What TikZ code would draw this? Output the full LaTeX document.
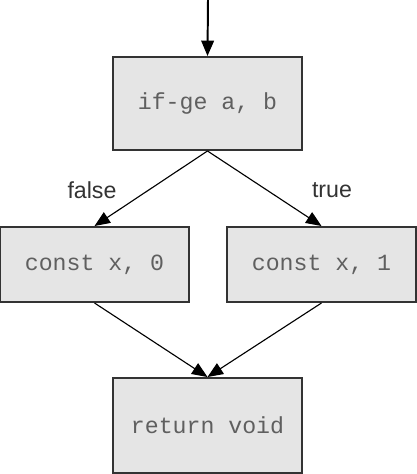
\documentclass[tikz,border=0pt]{standalone}
\usepackage{fontspec}
\setmainfont{Liberation Sans}
\setmonofont{Liberation Mono}
\usepackage{xcolor}
\definecolor{boxfill}{HTML}{E5E5E5}
\definecolor{boxline}{HTML}{333333}
\definecolor{codegray}{HTML}{5F5F5F}
\usetikzlibrary{arrows.meta}

\begin{document}
\begin{tikzpicture}[
    insn/.style={draw=boxline, line width=1.4pt, fill=boxfill,
      minimum width=4.725cm, font=\ttfamily\fontsize{16.5}{20}\selectfont,
      text=codegray, inner sep=0pt},
    branchlabel/.style={font=\fontsize{16.5}{20}\selectfont, text=boxline},
    flow/.style={-{Triangle[length=11pt, width=9pt]}, line width=0.8pt},
  ]
    \useasboundingbox (0, 0) rectangle (10.425, -11.85);

    % 指令块
    \coordinate (entry) at (5.2, 0);
    \node[insn, minimum height=2.325cm] (ifge)  at (5.1875, -2.5875)  {if-ge a, b};
    \node[insn, minimum height=1.875cm] (cst0)  at (2.3625, -6.6125)  {const x, 0};
    \node[insn, minimum height=1.875cm] (cst1)  at (8.0375, -6.6125)  {const x, 1};
    \node[insn, minimum height=2.375cm] (ret)   at (5.1875, -10.6375) {return void};

    % 分支标签
    \node[branchlabel] (lfalse) at (2.3, -4.75) {false};
    \node[branchlabel] (ltrue)  at (8.3, -4.75) {true};

    % 控制流
    \draw[flow, line width=1.4pt] (entry) -- (ifge.north);
    \draw[flow] (ifge.south) -- (cst0.north);
    \draw[flow] (ifge.south) -- (cst1.north);
    \draw[flow] (cst0.south) -- (ret.north);
    \draw[flow] (cst1.south) -- (ret.north);
  \end{tikzpicture}
\end{document}
